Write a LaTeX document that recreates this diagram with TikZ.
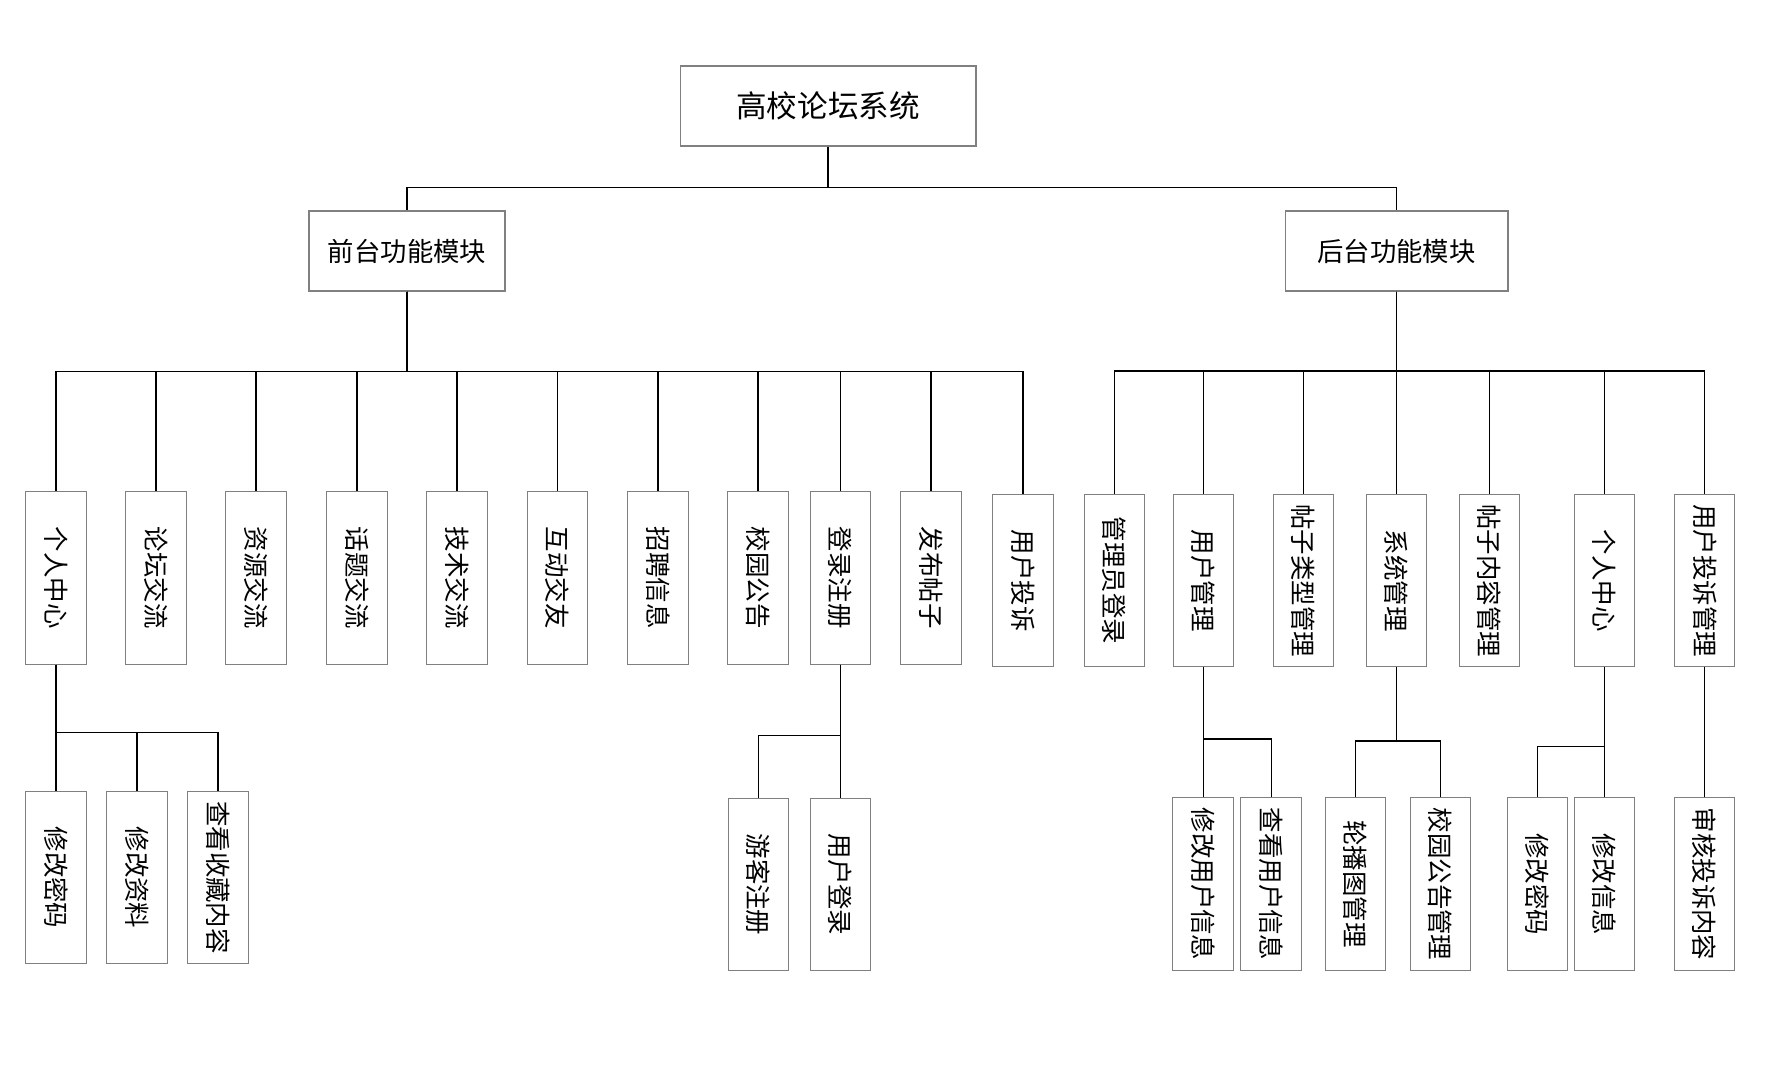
\documentclass[tikz,border=0pt]{standalone}
\usepackage{fontspec}
\usepackage{graphicx}
\usepackage{tikz}
\newfontfamily\cjk{Noto Sans CJK SC}
\newcommand{\vlbl}[1]{\rotatebox{-90}{#1}}

\begin{document}
\begin{tikzpicture}[x=0.02cm,y=-0.02cm,
  box/.style={draw=black!50,line width=0.6pt,fill=white,inner sep=0pt,
    font=\cjk\fontsize{15}{18}\selectfont},
  vbox/.style={box,minimum width=1.21cm,minimum height=3.45cm,
    font=\cjk\fontsize{14.5}{17}\selectfont},
  link/.style={draw=black,line width=0.8pt}]
 \useasboundingbox (0,0) rectangle (1778,1069);
 % top
 \node[box,minimum width=5.92cm,minimum height=1.6cm,
   font=\cjk\fontsize{17.4}{21}\selectfont] at (828,106)(root){高校论坛系统};
 \node[box,minimum width=3.92cm,minimum height=1.6cm] at (407,251)(qt){前台功能模块};
 \node[box,minimum width=4.46cm,minimum height=1.6cm] at (1396.5,251)(ht){后台功能模块};
 % front modules
 \node[vbox] at (55.9,577.8)(q1){\vlbl{个人中心}};
 \node[vbox] at (156,577.8)(q2){\vlbl{论坛交流}};
 \node[vbox] at (256,577.8)(q3){\vlbl{资源交流}};
 \node[vbox] at (357,577.8)(q4){\vlbl{话题交流}};
 \node[vbox] at (457,577.8)(q5){\vlbl{技术交流}};
 \node[vbox] at (557.5,577.8)(q6){\vlbl{互动交友}};
 \node[vbox] at (658,577.8)(q7){\vlbl{招聘信息}};
 \node[vbox] at (758,577.8)(q8){\vlbl{校园公告}};
 \node[vbox] at (840.5,577.8)(q9){\vlbl{登录注册}};
 \node[vbox] at (931,577.8)(q10){\vlbl{发布帖子}};
 \node[vbox] at (1022.8,580.6)(q11){\vlbl{用户投诉}};
 % back modules
 \node[vbox] at (1114.4,580.6)(h1){\vlbl{管理员登录}};
 \node[vbox] at (1203.5,580.6)(h2){\vlbl{用户管理}};
 \node[vbox] at (1303.3,580.6)(h3){\vlbl{帖子类型管理}};
 \node[vbox] at (1396.4,580.6)(h4){\vlbl{系统管理}};
 \node[vbox] at (1489.6,580.6)(h5){\vlbl{帖子内容管理}};
 \node[vbox] at (1604.4,580.6)(h6){\vlbl{个人中心}};
 \node[vbox] at (1704.7,580.6)(h7){\vlbl{用户投诉管理}};
 % third level
 \node[vbox] at (55.9,877.5)(q1a){\vlbl{修改密码}};
 \node[vbox] at (136.8,877.5)(q1b){\vlbl{修改资料}};
 \node[vbox] at (217.8,877.5)(q1c){\vlbl{查看收藏内容}};
 \node[vbox] at (758.5,884.5)(q9a){\vlbl{游客注册}};
 \node[vbox] at (840.5,884.5)(q9b){\vlbl{用户登录}};
 \node[vbox] at (1203.2,884)(h2a){\vlbl{修改用户信息}};
 \node[vbox] at (1271.2,884)(h2b){\vlbl{查看用户信息}};
 \node[vbox] at (1355.6,884)(h4a){\vlbl{轮播图管理}};
 \node[vbox] at (1440.5,884)(h4b){\vlbl{校园公告管理}};
 \node[vbox] at (1537.7,884)(h6a){\vlbl{修改密码}};
 \node[vbox] at (1604.7,884)(h6b){\vlbl{修改信息}};
 \node[vbox] at (1704.7,884)(h7a){\vlbl{审核投诉内容}};
 % connectors
 \foreach \n in {qt,ht}
  \draw[link] (root.south) -- ++(0,40.7) -| (\n.north);
 \foreach \n in {q1,q2,q3,q4,q5,q6,q7,q8,q9,q10,q11}
  \draw[link] (qt.south) -- ++(0,80) -| (\n.north);
 \foreach \n in {h1,h2,h3,h4,h5,h6,h7}
  \draw[link] (ht.south) -- ++(0,79.5) -| (\n.north);
 \foreach \n in {q1a,q1b,q1c}
  \draw[link] (q1.south) -- ++(0,67.7) -| (\n.north);
 \foreach \n in {q9a,q9b}
  \draw[link] (q9.south) -- ++(0,71) -| (\n.north);
 \foreach \n in {h2a,h2b}
  \draw[link] (h2.south) -- ++(0,71.7) -| (\n.north);
 \foreach \n in {h4a,h4b}
  \draw[link] (h4.south) -- ++(0,73.7) -| (\n.north);
 \foreach \n in {h6a,h6b}
  \draw[link] (h6.south) -- ++(0,79.3) -| (\n.north);
 \draw[link] (h7.south) -- (h7a.north);
\end{tikzpicture}
\end{document}
